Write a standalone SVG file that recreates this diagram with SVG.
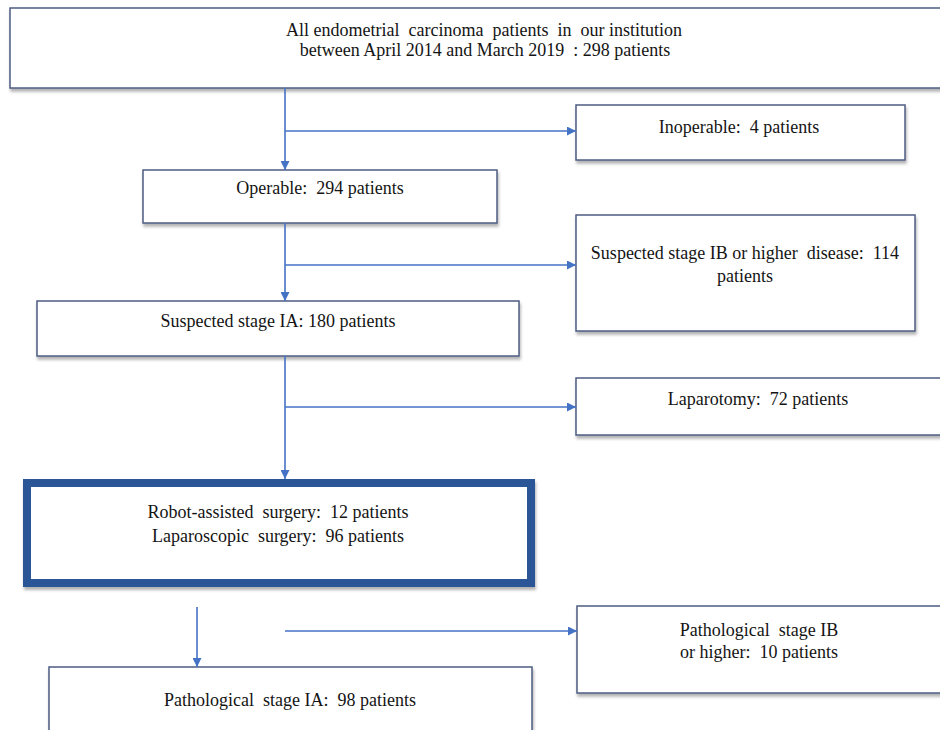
<svg xmlns="http://www.w3.org/2000/svg" width="940" height="730" viewBox="0 0 940 730">
<defs>
<style>
.box{fill:#fff;stroke:#4E5C82;stroke-width:1.5;filter:url(#sh)}
.bold{fill:#fff;stroke:#2C5597;stroke-width:8;filter:url(#sh)}
.t{font-family:"Liberation Serif","Times New Roman",serif;font-size:18px;fill:#141414;text-anchor:middle;white-space:pre}
.c{stroke:#4472C4;stroke-width:1.6;fill:none}
</style>
<filter id="sh" x="-5%" y="-10%" width="110%" height="130%">
<feDropShadow dx="1" dy="3" stdDeviation="1.5" flood-color="#000" flood-opacity="0.3"/>
</filter>
<marker id="ah" markerUnits="userSpaceOnUse" markerWidth="9" markerHeight="9" refX="9" refY="4.5" orient="auto">
<path d="M0,0 L9,4.5 L0,9 z" fill="#4472C4"/>
</marker>
</defs>
<rect width="940" height="730" fill="#fff"/>

<g id="all">
<rect class="box" x="10" y="8" width="950" height="80"/>
<text class="t" x="484" y="36">All endometrial  carcinoma  patients  in  our institution</text>
<text class="t" x="485" y="56">between April 2014 and March 2019  : 298 patients</text>
</g>

<g id="inoperable">
<rect class="box" x="576" y="105" width="329" height="55"/>
<text class="t" x="739" y="133">Inoperable:  4 patients</text>
</g>

<g id="operable">
<rect class="box" x="143" y="170" width="354" height="53"/>
<text class="t" x="320" y="194">Operable:  294 patients</text>
</g>

<g id="suspected-ib">
<rect class="box" x="576" y="215" width="339" height="116"/>
<text class="t" x="745" y="259">Suspected stage IB or higher  disease:  114</text>
<text class="t" x="745" y="282">patients</text>
</g>

<g id="suspected-ia">
<rect class="box" x="37" y="301" width="482" height="55"/>
<text class="t" x="278" y="327">Suspected stage IA: 180 patients</text>
</g>

<g id="laparotomy">
<rect class="box" x="576" y="378" width="370" height="57"/>
<text class="t" x="758" y="405">Laparotomy:  72 patients</text>
</g>

<g id="mis">
<rect class="bold" x="27" y="483" width="504" height="100"/>
<text class="t" x="278" y="518">Robot-assisted  surgery:  12 patients</text>
<text class="t" x="278" y="542">Laparoscopic  surgery:  96 patients</text>
</g>

<g id="path-ib">
<rect class="box" x="577" y="606" width="370" height="87"/>
<text class="t" x="759" y="636">Pathological  stage IB</text>
<text class="t" x="759" y="658">or higher:  10 patients</text>
</g>

<g id="path-ia">
<rect class="box" x="49" y="667" width="483" height="80"/>
<text class="t" x="290" y="706">Pathological  stage IA:  98 patients</text>
</g>

<g id="connectors">
<path class="c" d="M285,88 V170" marker-end="url(#ah)"/>
<path class="c" d="M285,131 H576" marker-end="url(#ah)"/>
<path class="c" d="M285,223 V301" marker-end="url(#ah)"/>
<path class="c" d="M285,265 H576" marker-end="url(#ah)"/>
<path class="c" d="M285,356 V479" marker-end="url(#ah)"/>
<path class="c" d="M285,407 H576" marker-end="url(#ah)"/>
<path class="c" d="M197,607 V667" marker-end="url(#ah)"/>
<path class="c" d="M285,631 H577" marker-end="url(#ah)"/>
</g>
</svg>
